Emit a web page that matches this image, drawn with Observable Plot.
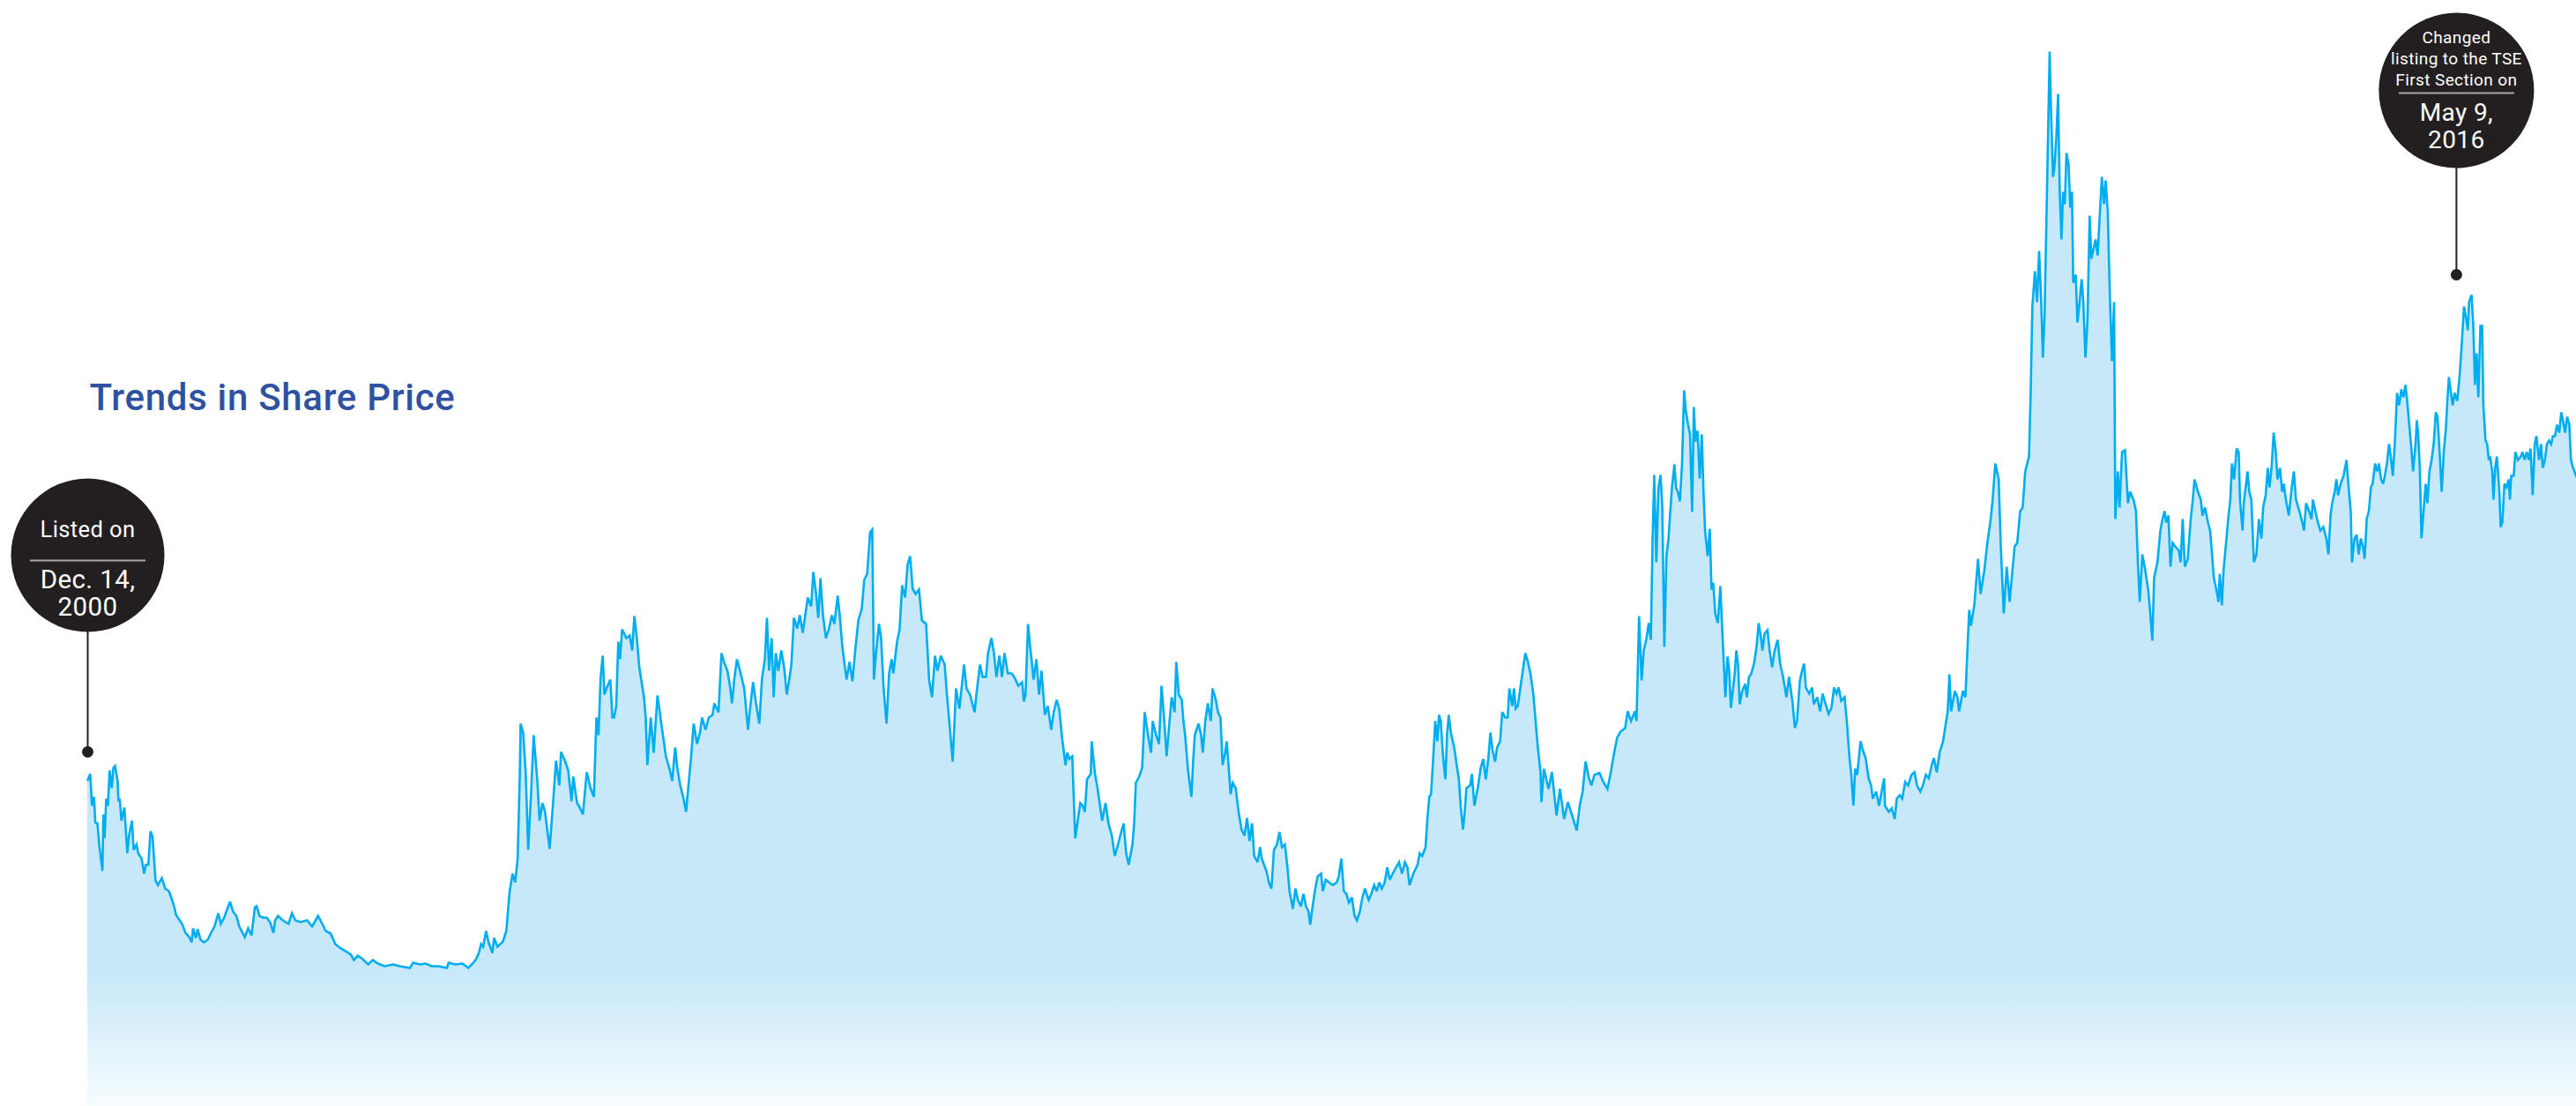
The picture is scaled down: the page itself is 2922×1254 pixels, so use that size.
<!DOCTYPE html>
<html>
<head>
<meta charset="utf-8">
<script src="https://cdn.jsdelivr.net/npm/d3@7"></script>
<script src="https://cdn.jsdelivr.net/npm/@observablehq/plot@0.6"></script>
<style>
  html, body { margin: 0; padding: 0; background: #ffffff; }
  #chart { width: 2922px; height: 1254px; }
</style>
</head>
<body>
<div id="chart"></div>
<script>
// ---------------- data ----------------
const chartTitle = "Trends in Share Price";
const listingDate = "2000-12-14";
const lastDate = "2017-02-18";

// [days since listing, share price (relative units)]
const priceHistory = [
[0,370],[6,377],[10,341],[15,351],[18,322],[23,321],[28,294],[35,267],[37,331],[40,304],[44,349],[48,341],[52,381],[57,361],[61,384],[65,386],[71,369],[73,346],[76,349],[80,324],[87,339],[90,317],[94,287],[98,307],[105,324],[109,291],[116,297],[120,287],[128,281],[134,264],[138,274],[144,274],[149,312],[154,306],[161,256],[167,251],[176,259],[184,247],[193,244],[199,236],[205,227],[210,217],[217,212],[224,207],[232,197],[241,192],[247,186],[250,202],[257,191],[261,201],[268,189],[276,186],[285,189],[293,197],[301,204],[310,219],[316,207],[324,214],[333,226],[338,232],[345,221],[353,216],[360,204],[373,192],[381,202],[389,194],[397,226],[401,227],[408,216],[417,214],[425,214],[433,209],[441,197],[445,211],[452,216],[461,212],[469,209],[477,207],[485,219],[493,211],[505,209],[521,211],[533,204],[547,216],[557,207],[565,199],[577,196],[588,184],[601,179],[613,176],[625,172],[632,166],[641,171],[653,167],[666,161],[677,166],[689,162],[705,159],[725,161],[741,159],[765,157],[773,163],[789,161],[802,162],[817,159],[833,159],[853,157],[857,163],[873,161],[890,162],[904,157],[914,162],[921,166],
[929,174],[934,184],[939,181],[946,199],[952,186],[961,174],[965,191],[973,181],[986,187],[994,199],[1002,244],[1009,264],[1015,254],[1021,281],[1026,374],[1028,434],[1034,424],[1040,379],[1046,291],[1053,357],[1059,421],[1068,367],[1073,324],[1080,344],[1086,334],[1097,292],[1105,344],[1112,392],[1120,364],[1124,402],[1134,391],[1141,381],[1149,346],[1153,374],[1162,344],[1166,341],[1176,331],[1185,379],[1194,361],[1202,351],[1208,441],[1213,421],[1218,487],[1223,511],[1227,467],[1232,474],[1241,484],[1246,441],[1250,441],[1255,454],[1260,527],[1264,507],[1269,541],[1279,531],[1287,534],[1293,517],[1298,556],[1304,531],[1310,497],[1321,464],[1325,441],[1329,387],[1337,441],[1344,401],[1353,466],[1363,431],[1373,397],[1382,382],[1388,369],[1395,407],[1400,384],[1407,364],[1414,351],[1421,334],[1426,361],[1433,397],[1439,434],[1447,411],[1454,424],[1459,441],[1467,427],[1475,441],[1484,444],[1488,457],[1498,447],[1505,514],[1511,504],[1519,494],[1526,474],[1530,457],[1536,487],[1542,507],[1549,494],[1559,474],[1568,427],[1572,447],[1580,481],[1587,457],[1595,434],[1601,484],[1608,507],[1613,554],[1618,494],[1624,531],[1629,464],[1634,514],[1640,494],[1647,517],[1654,497],[1660,467],[1666,484],[1671,501],[1677,554],[1685,542],[1691,557],[1698,537],[1704,557],[1710,577],[1718,567],[1723,606],[1729,584],[1735,554],[1740,599],[1746,557],[1753,531],[1760,541],[1767,557],[1773,547],[1781,579],[1786,556],[1792,521],[1802,484],[1809,504],[1816,482],[1822,514],[1830,551],[1838,564],[1844,597],[1851,604],[1858,651],[1863,654],[1867,484],[1872,514],[1879,547],[1884,531],[1890,474],[1897,434],[1903,491],[1909,507],[1913,491],[1922,527],[1928,541],[1934,591],[1941,577],[1947,614],[1953,624],[1959,587],[1966,581],[1974,586],[1981,551],[1991,547],[1998,484],[2005,464],[2012,511],[2018,494],[2026,511],[2035,501],[2040,469],[2047,431],[2054,391],[2062,474],[2070,451],[2081,501],[2087,474],[2095,467],[2106,447],[2112,474],[2119,501],[2125,487],[2133,487],[2138,514],[2146,531],[2152,514],[2158,487],[2165,511],[2171,487],[2177,514],[2185,491],[2194,491],[2200,487],
[2210,477],[2219,481],[2223,459],[2227,467],[2233,547],[2238,521],[2242,504],[2246,484],[2253,507],[2259,467],[2265,494],[2273,444],[2280,454],[2288,427],[2294,447],[2301,461],[2307,451],[2314,417],[2322,387],[2326,401],[2331,394],[2338,397],[2345,304],[2351,324],[2357,344],[2363,341],[2368,334],[2373,371],[2382,377],[2384,414],[2392,377],[2398,361],[2403,344],[2409,324],[2417,344],[2424,321],[2432,307],[2439,284],[2445,294],[2452,307],[2460,321],[2466,287],[2472,274],[2481,297],[2485,321],[2489,367],[2497,374],[2504,384],[2510,447],[2518,421],[2525,401],[2529,437],[2537,421],[2544,411],[2550,477],[2556,441],[2562,397],[2569,437],[2574,464],[2581,447],[2585,504],[2591,467],[2598,461],[2602,437],[2606,421],[2613,381],[2621,351],[2625,391],[2629,421],[2638,434],[2644,421],[2648,401],[2654,437],[2660,457],[2667,437],[2671,474],[2679,461],[2684,447],[2690,441],[2695,387],[2701,401],[2705,414],[2709,387],[2714,354],[2719,367],[2726,361],[2733,334],[2740,314],[2747,307],[2753,327],[2759,301],[2765,321],[2770,284],[2778,277],[2784,294],[2788,281],[2799,267],[2805,254],[2811,247],[2817,291],[2824,297],[2830,311],[2836,294],[2843,297],[2849,271],[2854,244],[2862,224],[2868,247],[2874,234],[2881,227],[2887,241],[2893,227],[2899,221],[2903,206],[2908,224],[2915,247],[2921,261],[2929,264],[2933,244],[2940,257],[2948,254],[2957,251],[2966,254],[2971,261],[2977,281],[2983,244],[2989,241],[2995,231],[3002,237],[3008,217],[3014,211],[3021,221],[3027,237],[3033,247],[3042,234],[3048,241],[3055,251],[3061,244],[3067,254],[3073,247],[3080,254],[3086,271],[3092,257],[3099,264],[3107,271],[3114,277],[3121,264],[3128,277],[3134,271],[3139,251],[3148,264],[3158,274],[3163,287],[3169,284],[3177,294],[3181,324],[3186,351],[3190,354],[3195,394],[3200,437],[3205,414],[3209,444],[3213,437],[3219,394],[3224,371],[3228,421],[3232,444],[3237,424],[3245,407],[3251,387],[3256,371],[3261,337],[3266,314],[3270,334],[3274,361],[3283,364],[3287,377],[3293,341],[3301,361],[3308,384],[3314,394],[3320,371],[3326,394],[3331,424],[3336,404],[3342,391],[3347,407],[3354,414],[3359,447],[3366,441],[3372,441],[3376,474],[3383,454],[3387,474],[3391,451],[3396,454],[3404,481],[3410,501],[3414,514],[3420,504],[3426,491],[3433,467],
[3443,410],[3450,379],[3452,345],[3458,383],[3469,360],[3477,379],[3488,330],[3496,360],[3506,326],[3515,345],[3525,330],[3536,313],[3543,341],[3550,357],[3557,391],[3565,372],[3571,364],[3578,376],[3590,378],[3599,368],[3609,360],[3617,379],[3624,399],[3632,418],[3640,425],[3651,429],[3657,448],[3665,437],[3674,448],[3678,437],[3684,556],[3690,483],[3695,517],[3701,529],[3707,548],[3712,529],[3716,640],[3720,716],[3725,617],[3730,701],[3735,716],[3739,682],[3744,521],[3749,624],[3754,644],[3758,674],[3762,701],[3768,728],[3772,701],[3776,697],[3781,686],[3786,728],[3791,812],[3795,789],[3800,774],[3805,762],[3810,674],[3814,793],[3818,754],[3823,766],[3828,712],[3833,762],[3837,697],[3841,651],[3847,624],[3852,655],[3856,586],[3860,594],[3865,559],[3871,548],[3877,590],[3883,525],[3889,464],[3894,510],[3898,494],[3902,452],[3911,490],[3915,517],[3919,502],[3923,456],[3929,471],[3936,479],[3940,464],[3945,487],[3950,490],[3957,502],[3963,521],[3968,548],[3973,533],[3977,517],[3982,536],[3989,540],[3994,517],[4000,498],[4006,517],[4013,529],[4019,502],[4026,487],[4034,464],[4040,487],[4048,460],[4054,429],[4059,437],[4066,483],[4071,494],[4076,502],[4080,475],[4088,468],[4095,475],[4099,456],[4107,464],[4114,448],[4120,468],[4127,456],[4134,445],[4141,452],[4147,475],[4153,468],[4158,475],[4164,460],[4172,464],[4178,433],[4183,399],[4188,376],[4193,341],[4197,383],[4202,376],[4210,414],[4216,403],[4222,395],[4229,372],[4235,364],[4239,349],[4247,357],[4254,341],[4260,357],[4266,372],[4268,341],[4277,334],[4284,338],[4291,326],[4296,349],[4303,353],[4309,349],[4316,368],[4323,364],[4331,376],[4338,379],[4344,364],[4352,357],[4358,364],[4365,376],[4372,372],[4379,387],[4384,395],[4391,379],[4398,402],[4406,414],[4412,433],[4417,448],[4421,490],[4425,448],[4434,471],[4440,464],[4444,448],[4453,471],[4459,464],
[4463,510],[4468,563],[4472,545],[4480,568],[4489,621],[4495,581],[4504,608],[4511,639],[4518,662],[4523,684],[4530,729],[4538,711],[4543,635],[4550,559],[4557,612],[4564,572],[4569,599],[4576,635],[4582,639],[4589,675],[4595,679],[4601,720],[4610,737],[4614,809],[4618,907],[4624,947],[4629,912],[4634,970],[4639,912],[4643,849],[4647,898],[4653,1045],[4659,1196],[4662,1135],[4667,1054],[4670,1063],[4675,1099],[4679,1148],[4683,1037],[4687,983],[4691,1037],[4695,1023],[4699,1081],[4704,1068],[4708,1019],[4712,1037],[4715,934],[4721,943],[4725,889],[4729,907],[4735,938],[4739,912],[4744,849],[4749,894],[4754,1010],[4758,961],[4764,974],[4768,983],[4773,965],[4777,1001],[4783,1054],[4788,1023],[4792,1050],[4797,1014],[4802,920],[4807,845],[4812,912],[4815,666],[4821,720],[4825,679],[4831,742],[4838,744],[4845,684],[4850,697],[4858,688],[4864,675],[4869,612],[4873,572],[4879,626],[4886,608],[4893,586],[4898,559],[4903,528],[4907,599],[4915,617],[4922,653],[4927,666],[4932,675],[4936,662],[4941,670],[4946,612],[4951,639],[4957,635],[4966,630],[4970,617],[4975,666],[4980,612],[4987,621],[4994,666],[4999,688],[5003,711],[5011,697],[5018,688],[5022,670],[5028,679],[5035,662],[5040,653],[5044,630],[5049,599],[5055,586],[5060,572],[5063,604],[5068,568],[5072,608],[5079,644],[5083,666],[5088,688],[5092,729],[5097,711],[5103,746],[5108,742],[5111,688],[5117,653],[5120,684],[5129,720],[5133,697],[5138,688],[5144,617],[5150,626],[5156,666],[5162,644],[5166,679],[5172,693],[5177,724],[5181,702],[5186,724],[5191,764],[5196,742],[5200,711],[5206,724],[5211,697],[5215,706],[5220,688],[5227,670],[5234,702],[5239,720],[5244,688],[5252,675],[5259,662],[5263,653],[5268,684],[5275,675],[5281,666],[5284,688],[5290,675],[5296,662],[5302,653],[5309,657],[5316,644],[5321,626],[5326,670],[5330,684],[5336,697],[5340,711],[5344,693],[5350,706],[5357,715],[5364,733],[5369,702],[5374,675],[5377,617],[5383,644],[5388,648],[5393,626],[5398,644],[5403,635],[5407,621],[5412,666],[5417,675],[5422,702],[5426,706],[5432,729],[5437,720],[5441,729],[5446,711],[5451,706],[5455,715],[5460,729],[5465,751],[5470,733],[5474,715],[5479,755],[5484,809],[5489,795],[5494,813],[5499,804],[5504,818],[5508,800],[5513,773],[5518,746],[5522,720],[5528,751],[5531,778],[5534,764],[5538,724],[5542,644],[5547,675],[5552,706],[5556,684],[5561,720],[5566,733],[5571,751],[5576,787],[5580,782],[5585,742],[5590,697],[5595,742],[5600,769],[5604,804],[5607,827],[5611,813],[5616,795],[5621,809],[5627,800],[5633,831],[5638,867],[5643,907],[5648,894],[5652,880],[5655,912],[5661,920],[5665,885],[5669,818],[5673,854],[5677,804],[5682,885],[5686,885],[5689,795],[5694,755],[5698,751],[5702,733],[5705,737],[5710,720],[5713,688],[5717,724],[5721,737],[5727,697],[5730,657],[5734,662],[5739,706],[5744,702],[5749,711],[5752,688],[5755,715],[5761,715],[5765,742],[5771,733],[5778,737],[5782,742],[5787,733],[5792,742],[5797,733],[5801,746],[5806,693],[5811,751],[5815,760],[5821,733],[5826,751],[5830,724],[5835,733],[5840,751],[5845,755],[5850,751],[5854,760],[5859,760],[5864,773],[5869,764],[5874,787],[5878,778],[5883,764],[5888,782],[5893,773],[5897,733],[5902,724],[5910,714]
];

const callouts = [
  {date: "2000-12-14", head: "Listed on", when: "Dec. 14,\n2000"},
  {date: "2016-05-09", head: "Changed\nlisting to the TSE\nFirst Section on", when: "May 9,\n2016"}
];

// ---------------- layout / style ----------------
const W = 2922, H = 1254;
const calloutLayout = [
  {pin: 852, center: 629, r: 87, headBase: 608, headSize: 25.5, headLH: 1.2, rule: 635, whenBase: 697, whenSize: 29.5, whenLH: 1.05},
  {pin: 311, center: 102, r: 88, headBase: 96, headSize: 19, headLH: 1.26, rule: 105, whenBase: 167, whenSize: 28, whenLH: 1.1}
];
const ink = "#231f20";

const t0 = new Date(listingDate);
const table = priceHistory.map(([d, p]) => ({date: d3.utcDay.offset(t0, d), price: p}));
const calloutRows = callouts.map(c => ({...c, date: new Date(c.date)}));

const dividerSymbol = {
  draw(context) { context.moveTo(-65.5, 0); context.lineTo(65.5, 0); }
};

const calloutMarks = calloutRows.flatMap((c, i) => {
  const L = calloutLayout[i];
  return [
    Plot.ruleX([c], {x: "date", insetTop: L.center, insetBottom: H - L.pin, stroke: ink, strokeWidth: 2}),
    Plot.dot([c], {x: "date", frameAnchor: "top", dy: L.pin, r: 6.5, fill: ink, stroke: "none"}),
    Plot.dot([c], {x: "date", frameAnchor: "top", dy: L.center, r: L.r, fill: ink, stroke: "none"}),
    Plot.dot([c], {x: "date", frameAnchor: "top", dy: L.rule, symbol: dividerSymbol, fill: "none", stroke: "#a9a7a7", strokeWidth: 2}),
    Plot.text([c], {x: "date", frameAnchor: "top", dy: L.headBase, text: "head", lineAnchor: "bottom",
      fontSize: L.headSize, lineHeight: L.headLH, fill: "white", fontWeight: 400}),
    Plot.text([c], {x: "date", frameAnchor: "top", dy: L.whenBase, text: "when", lineAnchor: "bottom",
      fontSize: L.whenSize, lineHeight: L.whenLH, fill: "white", fontWeight: 400})
  ];
});

const chart = Plot.plot({
  width: W,
  height: H,
  marginLeft: 99,
  marginRight: 0,
  marginTop: 0,
  marginBottom: 0,
  style: {fontFamily: "Roboto, 'Noto Sans', sans-serif", background: "#ffffff", overflow: "visible"},
  x: {type: "utc", domain: [t0, new Date(lastDate)], axis: null},
  y: {domain: [0, H], axis: null},
  marks: [
    Plot.areaY(table, {x: "date", y: "price", fill: "url(#shareFade)", curve: "linear"}),
    Plot.lineY(table, {x: "date", y: "price", stroke: "#00aeef", strokeWidth: 2.6, strokeLinejoin: "miter", strokeMiterlimit: 3}),
    ...calloutMarks,
    Plot.text([chartTitle], {frameAnchor: "top-left", dx: 2, dy: 464, text: d => d, lineAnchor: "bottom",
      textAnchor: "start", fontSize: 42, fontWeight: 500, fill: "#2f51a1"})
  ]
});

// gradient for the area fill
const defs = d3.select(chart).insert("defs", ":first-child");
const grad = defs.append("linearGradient").attr("id", "shareFade")
  .attr("gradientUnits", "userSpaceOnUse").attr("x1", 0).attr("x2", 0).attr("y1", 0).attr("y2", H);
grad.append("stop").attr("offset", 0).attr("stop-color", "#c6e8f8");
grad.append("stop").attr("offset", 1100 / H).attr("stop-color", "#c6e8f8");
grad.append("stop").attr("offset", 1).attr("stop-color", "#f7fcff");

d3.select(chart).selectAll("text").filter(function() { return this.textContent === chartTitle; })
  .style("letter-spacing", "0.7px");
d3.select(chart).selectAll("text").filter(function() { return this.textContent !== chartTitle; })
  .style("letter-spacing", "0.4px");

document.getElementById("chart").appendChild(chart);
</script>
</body>
</html>
